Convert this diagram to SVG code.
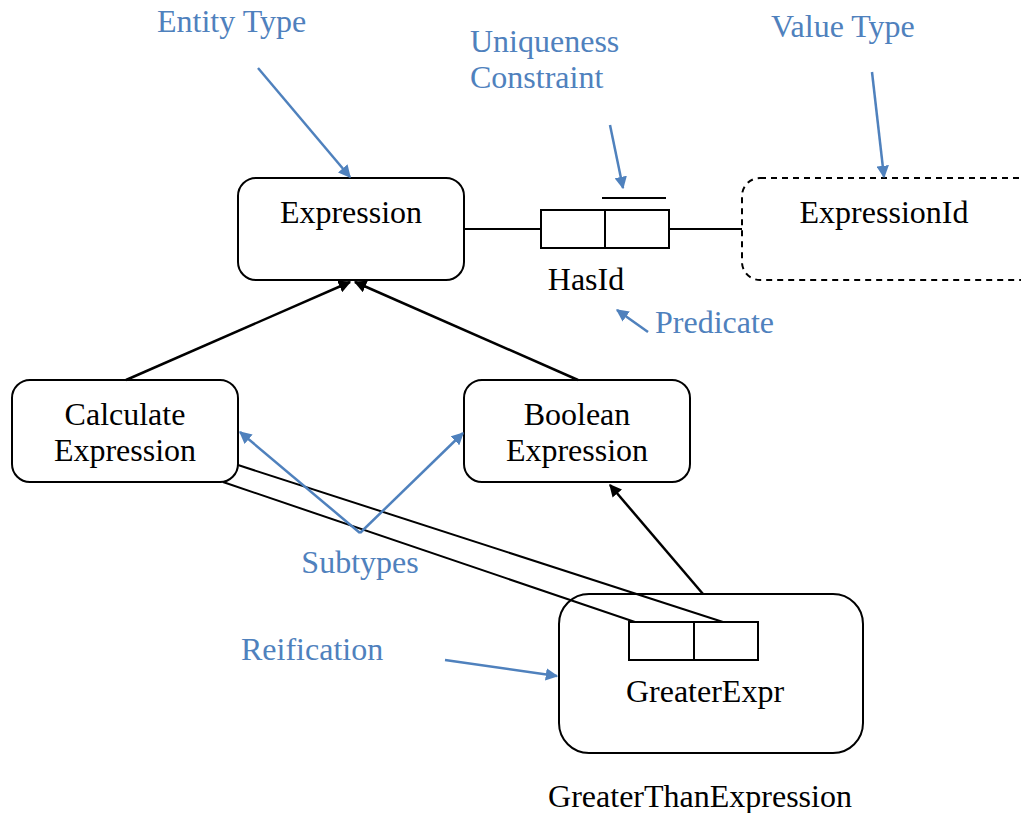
<svg xmlns="http://www.w3.org/2000/svg" width="1021" height="813" viewBox="0 0 1021 813">
  <style>
    .box { fill: #fff; stroke: #000; stroke-width: 2; }
    .dash { fill: #fff; stroke: #000; stroke-width: 2; stroke-dasharray: 6 5; }
    .role { fill: #fff; stroke: #000; stroke-width: 2; }
    .line { fill: none; stroke: #000; stroke-width: 2; }
    .sub { fill: none; stroke: #000; stroke-width: 2.5; marker-end: url(#blackHead); }
    .note { fill: none; stroke: #4F81BD; stroke-width: 2.5; marker-end: url(#blueHead); }
    .lbl { font-family: "Liberation Serif", "Times New Roman", serif; font-size: 32px; fill: #000; }
    .ann { font-family: "Liberation Serif", "Times New Roman", serif; font-size: 32px; fill: #4F81BD; }
    .mid { text-anchor: middle; }
  </style>
  <defs>
    <marker id="blackHead" viewBox="0 0 10 10" refX="9" refY="5" markerWidth="5" markerHeight="5" orient="auto" markerUnits="strokeWidth">
      <path d="M0,0 L10,5 L0,10 z" fill="#000"/>
    </marker>
    <marker id="blueHead" viewBox="0 0 10 10" refX="9" refY="5" markerWidth="5" markerHeight="5" orient="auto" markerUnits="strokeWidth">
      <path d="M0,0 L10,5 L0,10 z" fill="#4F81BD"/>
    </marker>
  </defs>
  <rect width="1021" height="813" fill="#fff"/>

  <!-- entity types -->
  <g id="expression">
    <rect class="box" x="238" y="178" width="226" height="102" rx="18"/>
    <text class="lbl mid" x="351" y="223">Expression</text>
  </g>
  <g id="expressionId">
    <rect class="dash" x="742" y="178" width="300" height="102" rx="18"/>
    <text class="lbl mid" x="884" y="223">ExpressionId</text>
  </g>
  <g id="hasId">
    <rect class="role" x="541" y="210" width="64" height="38"/>
    <rect class="role" x="605" y="210" width="64" height="38"/>
    <line class="line" x1="602" y1="198" x2="666" y2="198"/>
    <text class="lbl mid" x="586" y="290">HasId</text>
  </g>
  <g id="calculateExpression">
    <rect class="box" x="12" y="380" width="226" height="102" rx="18"/>
    <text class="lbl mid" x="125" y="425">Calculate</text>
    <text class="lbl mid" x="125" y="461">Expression</text>
  </g>
  <g id="booleanExpression">
    <rect class="box" x="464" y="380" width="226" height="102" rx="18"/>
    <text class="lbl mid" x="577" y="425">Boolean</text>
    <text class="lbl mid" x="577" y="461">Expression</text>
  </g>
  <g id="greaterThanExpression">
    <rect class="box" x="559" y="594" width="304" height="159" rx="30"/>
    <rect class="role" x="629" y="622" width="65" height="38"/>
    <rect class="role" x="694" y="622" width="64" height="38"/>
    <text class="lbl mid" x="705" y="702">GreaterExpr</text>
    <text class="lbl mid" x="700" y="807">GreaterThanExpression</text>
  </g>

  <!-- connectors, drawn over the nodes so the reification lines reach the inner roles -->
  <g id="connectors">
    <line class="line" x1="464" y1="229" x2="541" y2="229"/>
    <line class="line" x1="669" y1="229" x2="742" y2="229"/>
    <line class="sub" x1="126" y1="380" x2="350" y2="282"/>
    <line class="sub" x1="578" y1="380" x2="355" y2="282"/>
    <line class="sub" x1="703" y1="594" x2="610" y2="485"/>
    <line class="line" x1="238" y1="465" x2="723" y2="622"/>
    <line class="line" x1="223" y1="482" x2="635" y2="622"/>
  </g>

  <!-- annotations -->
  <g id="annotations">
    <text class="ann" x="157" y="32">Entity Type</text>
    <line class="note" x1="258" y1="68" x2="350" y2="177"/>
    <text class="ann" x="470" y="52">Uniqueness</text>
    <text class="ann" x="470" y="88">Constraint</text>
    <line class="note" x1="610" y1="125" x2="623" y2="188"/>
    <text class="ann" x="771" y="37">Value Type</text>
    <line class="note" x1="872" y1="72" x2="884" y2="177"/>
    <text class="ann" x="655" y="333">Predicate</text>
    <line class="note" x1="648" y1="332" x2="617" y2="310"/>
    <text class="ann mid" x="360" y="573">Subtypes</text>
    <line class="note" x1="360" y1="533" x2="240" y2="432"/>
    <line class="note" x1="360" y1="533" x2="463" y2="433"/>
    <text class="ann" x="241" y="660">Reification</text>
    <line class="note" x1="445" y1="660" x2="557" y2="676"/>
  </g>
</svg>
